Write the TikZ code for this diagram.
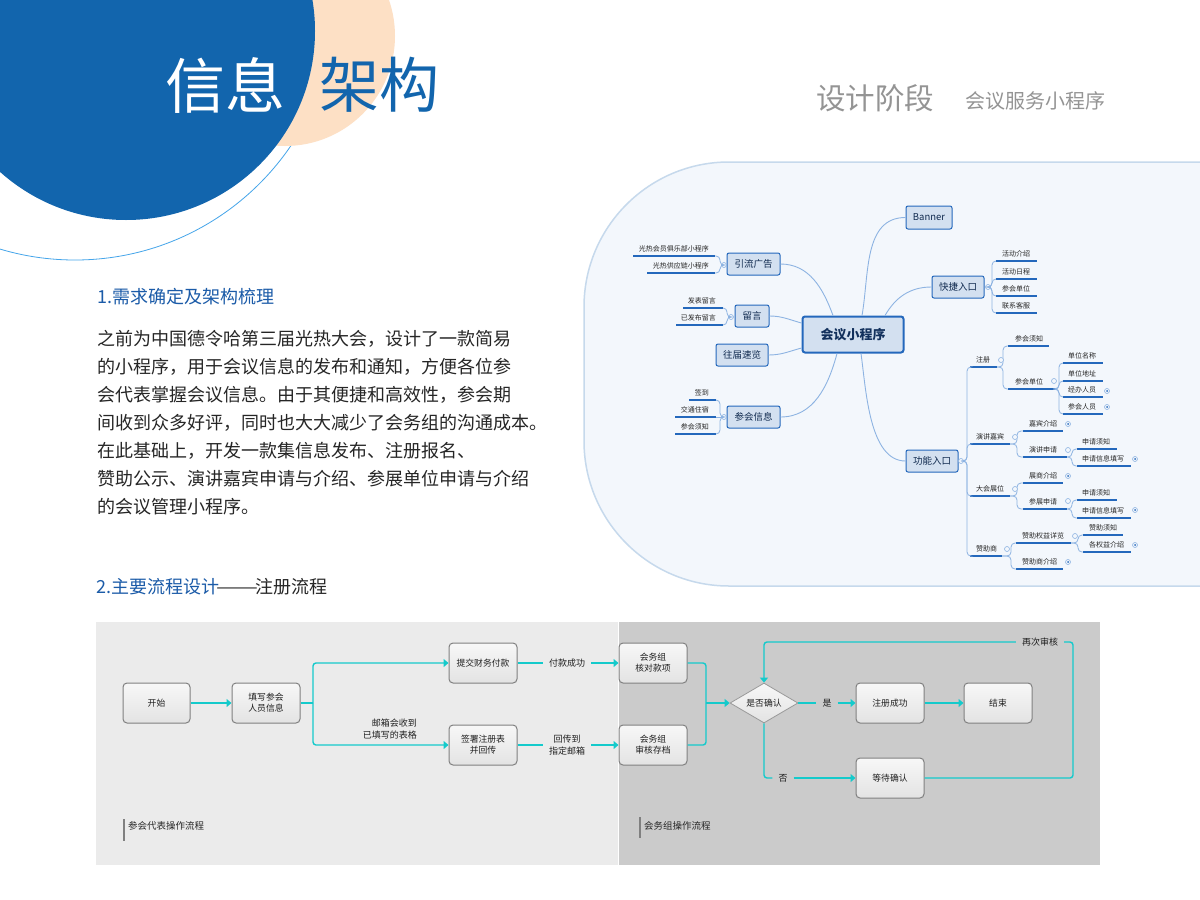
\documentclass[tikz,border=0pt]{standalone}
\usepackage{fontspec}
\setmainfont{Noto Sans CJK SC}
\usetikzlibrary{arrows.meta,shapes.geometric,shadings,calc}
\definecolor{deepblue}{HTML}{1265AD}
\definecolor{peach}{HTML}{FDE0C5}
\definecolor{ringblue}{HTML}{45A5EA}
\definecolor{headblue}{HTML}{1B5BA8}
\definecolor{panelfill}{HTML}{F3F7FC}
\definecolor{panelline}{HTML}{C6D9EC}
\definecolor{mmfill}{HTML}{D3E0F0}
\definecolor{mmline}{HTML}{2468BC}
\definecolor{mmcurve}{HTML}{8DB3E2}
\definecolor{mmtext}{HTML}{12305C}
\definecolor{teal}{HTML}{14CACB}
\definecolor{lightgrey}{HTML}{EBEBEB}
\definecolor{darkgrey}{HTML}{CBCBCB}
\tikzset{
  mmroot/.style={draw=mmline,line width=2pt,fill=mmfill,rounded corners=2.5pt,minimum width=101,minimum height=36,inner sep=0pt,text=mmtext,font=\fontsize{13}{15}\selectfont},
  mmtopic/.style={draw=mmline,line width=1pt,fill=mmfill,rounded corners=2pt,minimum height=22,inner sep=0pt,text=mmtext!85!black,font=\fontsize{9.5}{11}\selectfont},
  mmtxt/.style={inner sep=0pt,text=black!85,font=\fontsize{7}{8}\selectfont},
  mmul/.style={draw=mmline,line width=1.2pt},
  mmbr/.style={draw=mmcurve,line width=.8pt,rounded corners=4pt},
  mmcv/.style={draw=mmcurve,line width=.9pt},
  foldc/.style={circle,draw=mmcurve,fill=panelfill,line width=.6pt,minimum size=5pt,inner sep=0pt},
  flowbox/.style={draw=black!50,line width=1pt,rounded corners=4pt,top color=black!3,bottom color=black!11,minimum width=68,minimum height=40,inner sep=0pt,align=center,text=black!88,font=\fontsize{8.8}{11}\selectfont},
  flowdec/.style={diamond,draw=black!40,line width=.8pt,top color=black!3,bottom color=black!11,minimum width=68,minimum height=40,shape aspect=1.7,inner sep=0pt,text=black!88,font=\fontsize{8.8}{11}\selectfont},
  flowlab/.style={inner xsep=6pt,inner ysep=0pt,align=center,text=black!88,font=\fontsize{9}{12}\selectfont},
  flowln/.style={draw=teal,line width=1.4pt,rounded corners=3pt},
  flowar/.style={flowln,-{Triangle[length=5pt,width=8pt]}},
  legbar/.style={draw=black!50,line width=1.2pt},
  legtxt/.style={inner sep=0pt,anchor=west,text=black!85,font=\fontsize{9.5}{11}\selectfont},
}
\newcommand{\mmleafR}[6]{% id, xl, xr, underline y, text x, text
  \coordinate (#1-l) at (#2,#4);
  \coordinate (#1-r) at (#3,#4);
  \draw[mmul] (#1-l) -- (#1-r);
  \node[mmtxt,anchor=west] (#1) at (#5,#4-7) {#6};
}
\newcommand{\mmleafL}[6]{% id, xl, xr, underline y, text x, text
  \coordinate (#1-l) at (#2,#4);
  \coordinate (#1-r) at (#3,#4);
  \draw[mmul] (#1-l) -- (#1-r);
  \node[mmtxt,anchor=east] (#1) at (#5,#4-7) {#6};
}
\newcommand{\mmfold}[3]{\node[foldc] (#1) at (#2,#3) {};}
\newcommand{\mmfoldd}[3]{\node[foldc] (#1) at (#2,#3) {};\fill[mmline] (#1.center) circle (1pt);}
\begin{document}
\begin{tikzpicture}[x=1pt,y=-1pt]
\useasboundingbox (0,0) rectangle (1200,900);
\fill[white] (0,0) rectangle (1200,900);
% header circles
\begin{scope}
  \clip (0,0) rectangle (1200,900);
  \draw[ringblue,line width=.8pt] (75,-1) circle (261);
  \fill[peach] (285,36) circle (110);
  \fill[deepblue] (126,31) circle (189);
\end{scope}
\node[inner sep=0pt,text=white,font=\fontsize{60}{70}\selectfont] (t1) at (225.5,85) {信息};
\node[inner sep=0pt,text=deepblue,font=\fontsize{60}{70}\selectfont] (t2) at (379,85) {架构};
\node[inner sep=0pt,anchor=west,text=black!42,font=\fontsize{29.5}{34}\selectfont] (t3) at (816,98) {设计阶段};
\node[inner sep=0pt,anchor=west,text=black!42,font=\fontsize{20}{24}\selectfont] (t4) at (965,101) {会议服务小程序};
% left text
\node[inner sep=0pt,anchor=west,text=headblue,font=\fontsize{18}{22}\selectfont] (h1) at (97,297) {1.需求确定及架构梳理};
\node[inner sep=0pt,anchor=north west,align=left,text=black!85,font=\fontsize{18}{28}\selectfont] (body) at (97,330) {之前为中国德令哈第三届光热大会，设计了一款简易\\的小程序，用于会议信息的发布和通知，方便各位参\\会代表掌握会议信息。由于其便捷和高效性，参会期\\间收到众多好评，同时也大大减少了会务组的沟通成本。\\在此基础上，开发一款集信息发布、注册报名、\\赞助公示、演讲嘉宾申请与介绍、参展单位申请与介绍\\的会议管理小程序。};
\node[inner sep=0pt,anchor=west,text=headblue,font=\fontsize{18}{22}\selectfont] (h2) at (96,587) {2.主要流程设计\textcolor{black!85}{\hspace{-3pt}\scalebox{1.39}[1]{——}\hspace{-3pt}注册流程}};
% mind map panel
\fill[panelfill] (1200,162) -- (729,162) arc[start angle=270,end angle=180,radius=145] -- (584,441) arc[start angle=180,end angle=90,radius=145] -- (1200,586) -- cycle;
\draw[panelline,line width=1.5pt] (1200,162) -- (729,162) arc[start angle=270,end angle=180,radius=145] -- (584,441) arc[start angle=180,end angle=90,radius=145] -- (1200,586);
% topics
\node[mmroot] (root) at (853,334.5) {\bfseries 会议小程序};
\node[mmtopic,minimum width=53] (yl) at (753.5,264) {引流广告};
\node[mmtopic,minimum width=34] (ly) at (752,316) {留言};
\node[mmtopic,minimum width=52] (wj) at (742,355) {往届速览};
\node[mmtopic,minimum width=53] (ch) at (753.5,417) {参会信息};
\node[mmtopic,minimum width=46,minimum height=23] (bn) at (929,217.5) {Banner};
\node[mmtopic,minimum width=52] (kj) at (958,287) {快捷入口};
\node[mmtopic,minimum width=52] (gn) at (932,461) {功能入口};
\draw[mmcv] (yl.east) to[out=0,in=110] ([xshift=-20pt]root.north);
\draw[mmcv] (ly.east) to[out=0,in=165] ([yshift=11.5pt]root.west);
\draw[mmcv] (wj.east) to[out=0,in=195] ([yshift=-13.5pt]root.west);
\draw[mmcv] (ch.east) to[out=0,in=-105] ([xshift=-16pt]root.south);
\draw[mmcv] ([xshift=9pt]root.north) to[out=80,in=180] (bn.west);
\draw[mmcv] ([xshift=32pt]root.north) to[out=60,in=180] (kj.west);
\draw[mmcv] ([xshift=8pt]root.south) to[out=-82,in=180,looseness=.8] (gn.west);
% left leaves
\mmfold{fyl}{724}{265}
\mmleafL{a1}{633}{715}{256}{709}{光热会员俱乐部小程序}
\mmleafL{a2}{647}{715}{273}{709}{光热供应链小程序}
\draw[mmbr] (fyl.west) -| ([xshift=5pt]a1-r) -- (a1-r);
\draw[mmbr] (fyl.west) -| ([xshift=5pt]a2-r) -- (a2-r);
\mmfold{fly}{731}{317}
\mmleafL{b1}{683}{723}{308}{716}{发表留言}
\mmleafL{b2}{676}{723}{325}{716}{已发布留言}
\draw[mmbr] (fly.west) -| ([xshift=4pt]b1-r) -- (b1-r);
\draw[mmbr] (fly.west) -| ([xshift=4pt]b2-r) -- (b2-r);
\mmfold{fch}{724}{417}
\mmleafL{c1}{689}{716}{400}{709}{签到}
\mmleafL{c2}{675}{716}{417}{709}{交通住宿}
\mmleafL{c3}{675}{716}{434}{709}{参会须知}
\draw[mmbr] (fch.west) -| ([xshift=4pt]c1-r) -- (c1-r);
\draw[mmbr] (fch.west) -- (c2-r);
\draw[mmbr] (fch.west) -| ([xshift=4pt]c3-r) -- (c3-r);
% quick entry
\mmfold{fkj}{988}{287}
\mmleafR{d1}{996}{1037}{261}{1002}{活动介绍}
\mmleafR{d2}{996}{1037}{279}{1002}{活动日程}
\mmleafR{d3}{996}{1037}{296}{1002}{参会单位}
\mmleafR{d4}{996}{1037}{313}{1002}{联系客服}
\foreach \n in {d1,d2,d3,d4}{\draw[mmbr] (fkj.east) -| ([xshift=-4pt]\n-l) -- (\n-l);}
% function entry
\mmfold{fgn}{961}{461}
\mmleafR{e1}{970}{997}{367}{976}{注册}
\mmleafR{e2}{970}{1010}{444}{976}{演讲嘉宾}
\mmleafR{e3}{970}{1010}{496}{976}{大会展位}
\mmleafR{e4}{970}{1002}{556}{976}{赞助商}
\foreach \n in {e1,e2,e3,e4}{\draw[mmbr] (fgn.east) -| ([xshift=-3pt]\n-l) -- (\n-l);}
\mmleafR{f1}{1008}{1049}{346}{1015}{参会须知}
\mmleafR{f2}{1008}{1057}{389}{1015}{参会单位}
\foreach \n in {f1,f2}{\draw[mmbr] (e1-r) -| ([xshift=-5pt]\n-l) -- (\n-l);}
\mmleafR{g1}{1063}{1103}{363}{1068}{单位名称}
\mmleafR{g2}{1063}{1103}{381}{1068}{单位地址}
\mmleafR{g3}{1063}{1103}{397}{1068}{经办人员}
\mmleafR{g4}{1063}{1103}{414}{1068}{参会人员}
\foreach \n in {g1,g2,g3,g4}{\draw[mmbr] (f2-r) -| ([xshift=-4pt]\n-l) -- (\n-l);}
\mmleafR{h1a}{1023}{1063}{431}{1029}{嘉宾介绍}
\mmleafR{h2a}{1023}{1067}{457}{1029}{演讲申请}
\foreach \n in {h1a,h2a}{\draw[mmbr] (e2-r) -| ([xshift=-6pt]\n-l) -- (\n-l);}
\mmleafR{i1}{1077}{1117}{449}{1082}{申请须知}
\mmleafR{i2}{1077}{1131}{466}{1082}{申请信息填写}
\foreach \n in {i1,i2}{\draw[mmbr] (h2a-r) -| ([xshift=-5pt]\n-l) -- (\n-l);}
\mmleafR{j1}{1023}{1063}{483}{1029}{展商介绍}
\mmleafR{j2}{1023}{1067}{509}{1029}{参展申请}
\foreach \n in {j1,j2}{\draw[mmbr] (e3-r) -| ([xshift=-6pt]\n-l) -- (\n-l);}
\mmleafR{k1}{1077}{1117}{500}{1082}{申请须知}
\mmleafR{k2}{1077}{1131}{518}{1082}{申请信息填写}
\foreach \n in {k1,k2}{\draw[mmbr] (j2-r) -| ([xshift=-5pt]\n-l) -- (\n-l);}
\mmleafR{m1}{1016}{1071}{543}{1022}{赞助权益详览}
\mmleafR{m2}{1016}{1063}{569}{1022}{赞助商介绍}
\foreach \n in {m1,m2}{\draw[mmbr] (e4-r) -| ([xshift=-5pt]\n-l) -- (\n-l);}
\mmleafR{n1}{1083}{1123}{535}{1089}{赞助须知}
\mmleafR{n2}{1083}{1131}{552}{1089}{各权益介绍}
\foreach \n in {n1,n2}{\draw[mmbr] (m1-r) -| ([xshift=-5pt]\n-l) -- (\n-l);}
% fold marks
\mmfold{fe1}{1001}{360}
\mmfold{ff2}{1054}{381}
\mmfoldd{fg3}{1107}{391}
\mmfoldd{fg4}{1107}{407}
\mmfold{fe2}{1015}{437}
\mmfoldd{fh1}{1068}{424}
\mmfold{fh2}{1068}{450}
\mmfoldd{fi2}{1135}{459}
\mmfold{fe3}{1015}{489}
\mmfoldd{fj1}{1068}{476}
\mmfold{fj2}{1068}{501}
\mmfoldd{fk2}{1135}{510}
\mmfold{fe4}{1007}{549}
\mmfold{fm1}{1075}{536}
\mmfoldd{fm2}{1068}{562}
\mmfoldd{fn2}{1135}{545}
% flow panels
\fill[lightgrey] (96,622) rectangle (618,865);
\fill[darkgrey] (619,622) rectangle (1100,865);
\node[flowbox,minimum width=67] (st) at (156.5,703) {开始};
\node[flowbox] (tx) at (266,703) {填写参会\\人员信息};
\node[flowbox] (tj) at (483,663) {提交财务付款};
\node[flowbox] (tc) at (483,745) {签署注册表\\并回传};
\node[flowbox] (hz1) at (653,663) {会务组\\核对款项};
\node[flowbox] (hz2) at (653,745) {会务组\\审核存档};
\node[flowdec] (dm) at (764,703) {是否确认};
\node[flowbox] (ok) at (890,703) {注册成功};
\node[flowbox] (en) at (998,703) {结束};
\node[flowbox] (dd) at (890,778) {等待确认};
\node[flowlab] (fk) at (567,663) {付款成功};
\node[flowlab] (hc) at (567,745) {回传到\\指定邮箱};
\node[flowlab] (yes) at (827,703) {是};
\node[flowlab] (no) at (783,778) {否};
\node[flowlab] (again) at (1040,642) {再次审核};
\node[flowlab,anchor=east,align=right,inner xsep=0pt] (yx) at (417,729) {邮箱会收到\\已填写的表格};
\coordinate (j1) at (313,703);
\coordinate (j2) at (706,703);
\coordinate (j3) at (1073,642);
\draw[flowar] (st.east) -- (tx.west);
\draw[flowln] (tx.east) -- (j1);
\draw[flowar] (j1) |- (tj.west);
\draw[flowar] (j1) |- (tc.west);
\draw[flowln] (tj.east) -- (fk.west);
\draw[flowar] (fk.east) -- (hz1.west);
\draw[flowln] (tc.east) -- (hc.west);
\draw[flowar] (hc.east) -- (hz2.west);
\draw[flowln] (hz1.east) -| (j2);
\draw[flowln] (hz2.east) -| (j2);
\draw[flowar] (j2) -- (dm.west);
\draw[flowln] (dm.east) -- (yes.west);
\draw[flowar] (yes.east) -- (ok.west);
\draw[flowar] (ok.east) -- (en.west);
\draw[flowln] (dm.south) |- (no.west);
\draw[flowar] (no.east) -- (dd.west);
\draw[flowln] (dd.east) -| (j3) -- (again.east);
\draw[flowar] (again.west) -| (dm.north);
% legends
\coordinate (l1t) at (124,819);
\coordinate (l1b) at (124,841);
\coordinate (l2t) at (640,817);
\coordinate (l2b) at (640,838);
\draw[legbar] (l1t) -- (l1b);
\draw[legbar] (l2t) -- (l2b);
\node[legtxt] (lg1) at (128,826) {参会代表操作流程};
\node[legtxt] (lg2) at (644,826) {会务组操作流程};
\end{tikzpicture}
\end{document}
